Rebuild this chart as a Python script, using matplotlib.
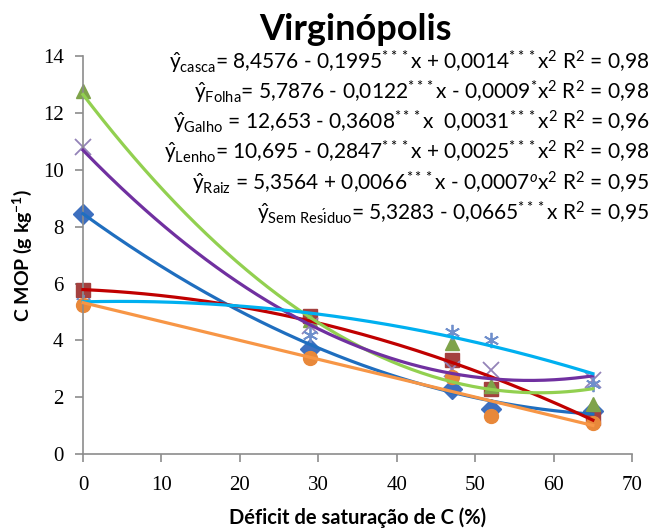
import numpy as np
import matplotlib.pyplot as plt

plt.rcParams['mathtext.fontset'] = 'custom'
plt.rcParams['mathtext.rm'] = 'Lato'
plt.rcParams['mathtext.it'] = 'Lato:italic'
plt.rcParams['mathtext.bf'] = 'Lato:bold'

# deficit de saturacao de C (%)
deficit = [0, 29, 47, 52, 65]

# C MOP (g/kg) por residuo
casca = [8.45, 3.7, 2.3, 1.6, 1.5]
folha = [5.78, 4.85, 3.3, 2.3, 1.25]
galho = [12.78, 4.7, 3.9, 2.4, 1.75]
lenho = [10.8, 4.5, 3.0, 2.95, 2.6]
raiz = [5.35, 4.2, 4.3, 4.0, 2.46]
sem_residuo = [5.25, 3.38, 2.7, 1.35, 1.1]

# coeficientes das regressoes (a, b, c) -> a + b*x + c*x^2
coef_casca = [8.4576, -0.1995, 0.0014]
coef_folha = [5.7876, -0.0122, -0.0009]
coef_galho = [12.653, -0.3608, 0.0031]
coef_lenho = [10.695, -0.2847, 0.0025]
coef_raiz = [5.3564, 0.0066, -0.0007]
coef_sem = [5.3283, -0.0665, 0.0]

equacoes = [
    r"$\hat{\mathrm{y}}_{\mathrm{casca}}$= 8,4576 - 0,1995$^{***}$x + 0,0014$^{***}$x$^{2}$ R$^{2}$ = 0,98",
    r"$\hat{\mathrm{y}}_{\mathrm{Folha}}$= 5,7876 - 0,0122$^{***}$x - 0,0009$^{*}$x$^{2}$ R$^{2}$ = 0,98",
    r"$\hat{\mathrm{y}}_{\mathrm{Galho}}$ = 12,653 - 0,3608$^{***}$x  0,0031$^{***}$x$^{2}$ R$^{2}$ = 0,96",
    r"$\hat{\mathrm{y}}_{\mathrm{Lenho}}$= 10,695 - 0,2847$^{***}$x + 0,0025$^{***}$x$^{2}$ R$^{2}$ = 0,98",
    r"$\hat{\mathrm{y}}_{\mathrm{Raiz}}$ = 5,3564 + 0,0066$^{***}$x - 0,0007$^{o}$x$^{2}$ R$^{2}$ = 0,95",
    r"$\hat{\mathrm{y}}_{\mathrm{Sem\ Res\'iduo}}$= 5,3283 - 0,0665$^{***}$x R$^{2}$ = 0,95",
]

series = [
    (casca, coef_casca, 'D', '#3D6FBF', '#1F6EBF'),
    (folha, coef_folha, 's', '#A4413F', '#C00000'),
    (galho, coef_galho, '^', '#7FA34A', '#92D050'),
    (lenho, coef_lenho, 'x', '#9483B8', '#7030A0'),
    (raiz, coef_raiz, (6, 2, 0), '#6F8FCC', '#00B0F0'),
    (sem_residuo, coef_sem, 'o', '#E8883A', '#F79646'),
]

fig = plt.figure(figsize=(6.64, 5.31), dpi=100)
ax = fig.add_axes([0.125, 0.145, 0.827, 0.749])

xs = np.linspace(0, 65, 200)
for vals, coef, mk, mcol, lcol in series:
    if mk == 'x' or isinstance(mk, tuple):
        ax.plot(deficit, vals, ls='none', marker=mk, ms=11, mew=1.3,
                color=mcol, zorder=2, clip_on=False)
    else:
        ax.plot(deficit, vals, ls='none', marker=mk, ms=10,
                color=mcol, zorder=2, clip_on=False)
for vals, coef, mk, mcol, lcol in series:
    ax.plot(xs, np.polyval(coef[::-1], xs), color=lcol, lw=2.3, zorder=3,
            clip_on=False)

ax.set_xlim(0, 70)
ax.set_ylim(0, 14)
ax.set_xticks(range(0, 71, 10))
ax.set_yticks(range(0, 15, 2))
for s in ['top', 'right']:
    ax.spines[s].set_visible(False)
for s in ['left', 'bottom']:
    ax.spines[s].set_color('#8C8C8C')
    ax.spines[s].set_linewidth(1.2)
ax.tick_params(colors='#8C8C8C', length=6, width=1.2, direction='out')
for lab in ax.get_xticklabels() + ax.get_yticklabels():
    lab.set_family('Liberation Serif')
    lab.set_fontsize(15)
    lab.set_color('black')
ax.tick_params(axis='x', pad=10)
ax.tick_params(axis='y', pad=8)

ax.set_xlabel('Déficit de saturação de C (%)', family='Lato', weight='bold',
              fontsize=14.5, labelpad=9)
ax.set_ylabel(r'C MOP (g kg$^{\mathbf{-1}}$)', family='Lato', weight='bold',
              fontsize=14, labelpad=6)

fig.text(0.535, 0.945, 'Virginópolis', family='Lato', weight='bold',
         fontsize=26, ha='center', va='center')

for i, eq in enumerate(equacoes):
    fig.text(0.978, 0.885 - i * 0.057, eq, family='Lato', fontsize=15,
             ha='right', va='center')

fig.savefig('out.png', dpi=100)
